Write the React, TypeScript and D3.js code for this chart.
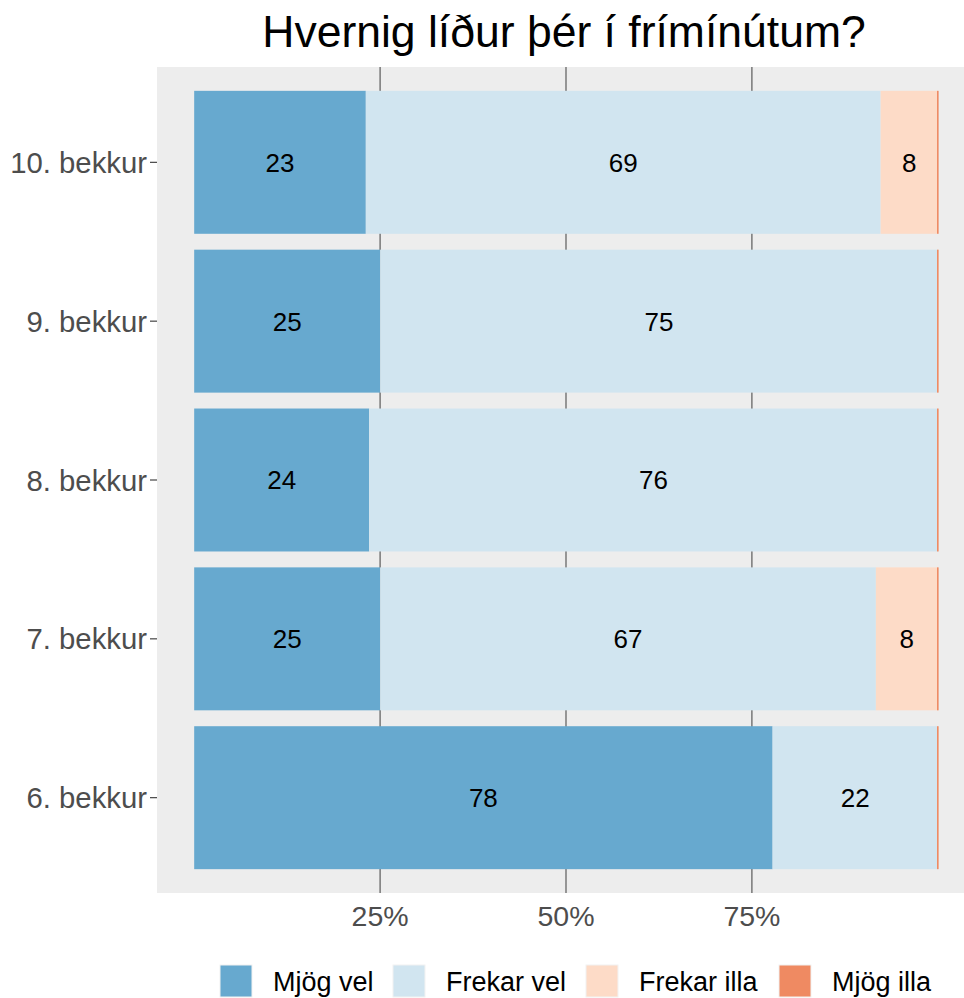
import React from "react";
import * as d3 from "d3";

const categories = ["10. bekkur", "9. bekkur", "8. bekkur", "7. bekkur", "6. bekkur"];
const seriesNames = ["Mjög vel", "Frekar vel", "Frekar illa", "Mjög illa"];
const seriesColors = ["#67A9CF", "#D1E5F0", "#FDDBC7", "#EF8A62"];
const mjogVel = [23.08, 25, 23.53, 25, 77.78];
const frekarVel = [69.23, 75, 76.47, 66.67, 22.22];
const frekarIlla = [7.69, 0, 0, 8.33, 0];
const mjogIlla = [0, 0, 0, 0, 0];
const xTicks = [25, 50, 75];
const title = "Hvernig líður þér í frímínútum?";

const W = 964;
const H = 998;
const panel = { left: 157, right: 975, top: 67, bottom: 893 };
const font = "'Liberation Sans', Arial, Helvetica, sans-serif";

export default function App() {
  const series = [mjogVel, frekarVel, frekarIlla, mjogIlla];
  const x = d3.scaleLinear().domain([-5, 105]).range([panel.left, panel.right]);
  const y = d3
    .scaleBand<string>()
    .domain(categories)
    .range([panel.top, panel.bottom])
    .paddingInner(0.1)
    .paddingOuter(0.15);

  const rows = categories.map((c, i) => {
    const obj: any = { cat: c };
    seriesNames.forEach((s, j) => (obj[s] = series[j][i]));
    return obj;
  });
  const stacked = d3.stack<any>().keys(seriesNames)(rows);

  const legendX = [220, 393, 586, 779];

  return (
    <svg
      width={W}
      height={H}
      style={{ position: "absolute", left: 0, top: 0, background: "#fff" }}
      fontFamily={font}
    >
      <rect x={0} y={0} width={W} height={H} fill="#fff" />
      <rect
        x={panel.left}
        y={panel.top}
        width={panel.right - panel.left}
        height={panel.bottom - panel.top}
        fill="#EDEDED"
      />
      {xTicks.map((t) => (
        <line
          key={t}
          x1={x(t)}
          x2={x(t)}
          y1={panel.top}
          y2={panel.bottom}
          stroke="#4D4D4D"
          strokeWidth={1.1}
        />
      ))}
      {stacked.map((layer, j) =>
        layer.map((d, i) => {
          const cat = categories[i];
          const x0 = x(d[0]);
          const x1 = x(d[1]);
          const w = Math.max(j === 3 ? 1.6 : 0, x1 - x0);
          if (w <= 0) return null;
          return (
            <rect
              key={`${j}-${i}`}
              x={j === 3 ? x0 - w / 2 : x0}
              y={y(cat)}
              width={w}
              height={y.bandwidth()}
              fill={seriesColors[j]}
            />
          );
        })
      )}
      {stacked.map((layer, j) =>
        layer.map((d, i) => {
          const v = d[1] - d[0];
          if (v <= 0) return null;
          const cat = categories[i];
          return (
            <text
              key={`t${j}-${i}`}
              x={x((d[0] + d[1]) / 2)}
              y={(y(cat) as number) + y.bandwidth() / 2}
              dy="0.36em"
              textAnchor="middle"
              fontSize={26}
              fill="#000"
            >
              {Math.round(v)}
            </text>
          );
        })
      )}
      {categories.map((c) => {
        const cy = (y(c) as number) + y.bandwidth() / 2;
        return (
          <g key={c}>
            <line x1={panel.left - 7} x2={panel.left} y1={cy} y2={cy} stroke="#333" strokeWidth={1.1} />
            <text
              x={panel.left - 10}
              y={cy}
              dy="0.36em"
              textAnchor="end"
              fontSize={29.3}
              fill="#4D4D4D"
            >
              {c}
            </text>
          </g>
        );
      })}
      {xTicks.map((t) => (
        <text
          key={`x${t}`}
          x={x(t)}
          y={926}
          textAnchor="middle"
          fontSize={28.5}
          fill="#4D4D4D"
        >
          {t}%
        </text>
      ))}
      <text
        x={(panel.left + panel.right) / 2 - 2}
        y={47}
        textAnchor="middle"
        fontSize={44.5}
        fill="#000"
      >
        {title}
      </text>
      {seriesNames.map((s, j) => (
        <g key={`l${s}`}>
          <rect
            x={legendX[j]}
            y={965}
            width={32}
            height={32}
            fill={seriesColors[j]}
            stroke="#F2F2F2"
            strokeWidth={1}
          />
          <text x={legendX[j] + 53} y={981} dy="0.36em" fontSize={27} fill="#000">
            {s}
          </text>
        </g>
      ))}
    </svg>
  );
}
